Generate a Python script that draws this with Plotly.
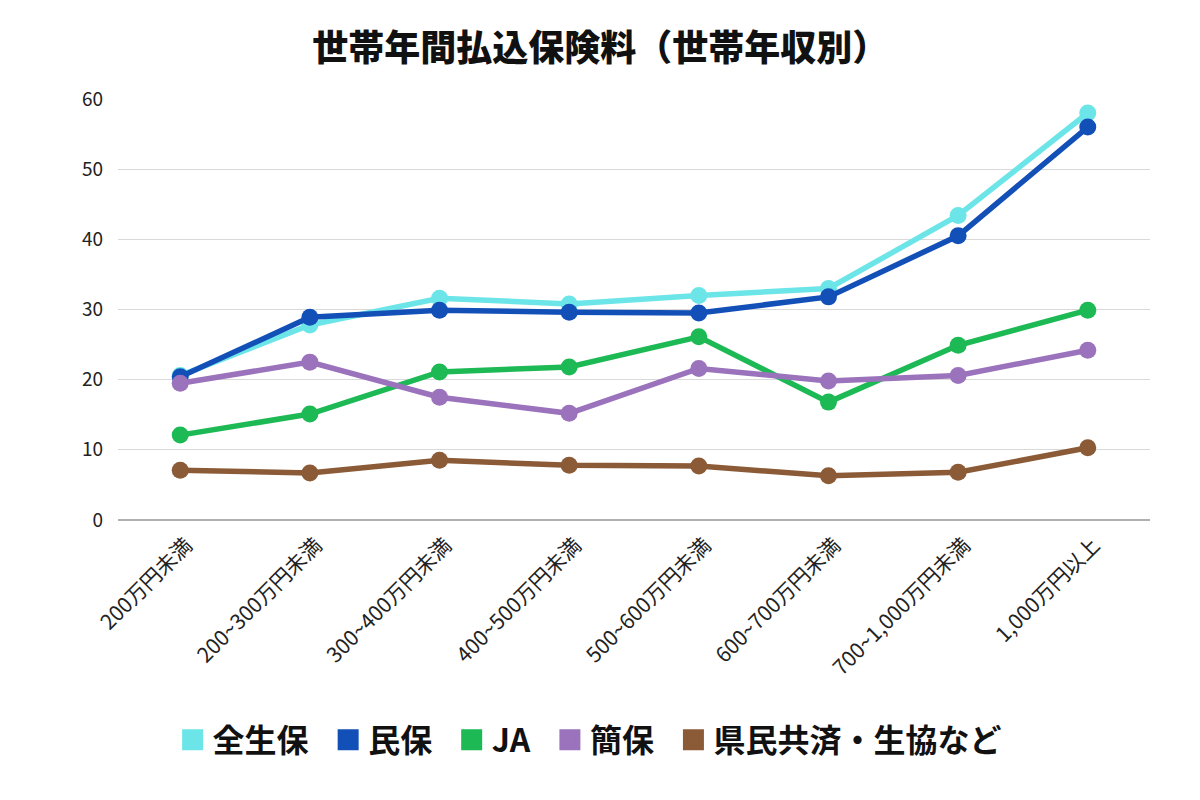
import plotly.graph_objects as go

categories = ["200万円未満", "200~300万円未満", "300~400万円未満", "400~500万円未満",
              "500~600万円未満", "600~700万円未満", "700~1,000万円未満", "1,000万円以上"]
zenseiho = [20.6, 27.8, 31.6, 30.8, 32.0, 33.0, 43.4, 58.0]
minpo = [20.4, 28.9, 29.9, 29.6, 29.5, 31.8, 40.5, 56.0]
ja = [12.1, 15.1, 21.1, 21.8, 26.1, 16.8, 24.9, 29.9]
kanpo = [19.5, 22.5, 17.5, 15.2, 21.6, 19.8, 20.6, 24.2]
kenmin = [7.1, 6.7, 8.5, 7.8, 7.7, 6.3, 6.8, 10.3]

series = [
    ("全生保", zenseiho, "#6ce5e8"),
    ("民保", minpo, "#1250b8"),
    ("JA", ja, "#1db954"),
    ("簡保", kanpo, "#9b72bc"),
    ("県民共済・生協など", kenmin, "#8b5a36"),
]

FONT = "Noto Sans CJK JP"
fig = go.Figure()
for name, vals, color in series:
    fig.add_trace(go.Scatter(
        x=categories, y=vals, mode="lines+markers", name=name,
        line=dict(color=color, width=5.5),
        marker=dict(color=color, size=17),
        showlegend=False,
    ))
for i, (name, vals, color) in enumerate(series):
    label = name if i == len(series) - 1 else name + "  "
    fig.add_trace(go.Scatter(
        x=[None], y=[None], mode="markers", name=label,
        marker=dict(color=color, size=16, symbol="square",
                    line=dict(color=color, width=5)),
        showlegend=True,
    ))

fig.update_layout(
    width=1200, height=800,
    paper_bgcolor="white", plot_bgcolor="white",
    margin=dict(l=110, r=58, t=91, b=288),
    font=dict(family=FONT, color="#222222"),
    title=dict(text="世帯年間払込保険料（世帯年収別）", x=0.4935, xanchor="center",
               y=0.95, yanchor="middle",
               font=dict(size=36, color="#111111", family=FONT, weight=900)),
    xaxis=dict(tickangle=-45, tickfont=dict(size=21, family=FONT, color="#222222"),
               showgrid=False, showline=False, ticks="", ticklabelstandoff=8,
               ticklabelshift=6),
    yaxis=dict(range=[0, 60], dtick=10, tickfont=dict(size=19, family=FONT, color="#222222"),
               gridcolor="#d9d9d9", gridwidth=1, zeroline=True, zerolinecolor="#b0b0b0",
               zerolinewidth=2, ticks="", ticklabelstandoff=14),
    legend=dict(orientation="h", x=0.457, xanchor="center", y=-0.5226, yanchor="middle",
                font=dict(size=32, family=FONT, color="#111111", weight=700),
                itemwidth=30, itemsizing="trace"),
)
fig.write_html("out.html")
